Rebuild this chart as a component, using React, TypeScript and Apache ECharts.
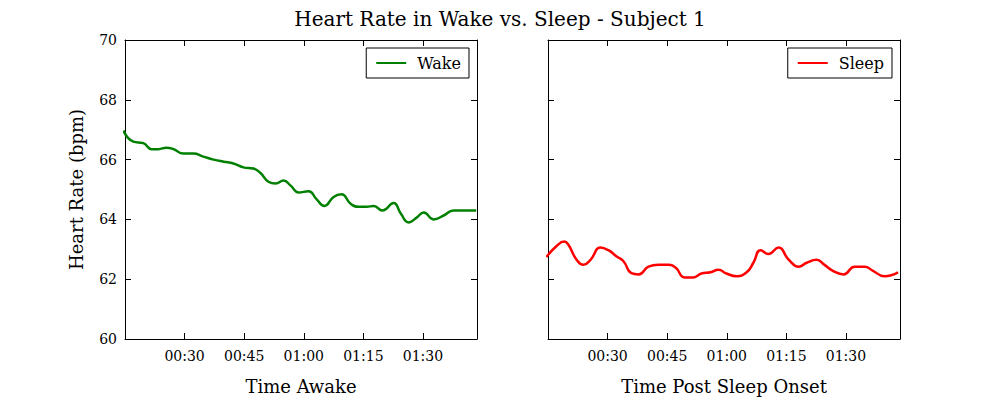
import * as echarts from "echarts";
import { useEffect, useRef } from "react";

const wakeMinutes = [14.6, 17.1, 19.6, 21.7, 23.4, 25.4, 27.2, 29.7, 32.2, 34.7, 37.3, 39.8, 42.3, 44.8, 47.3, 49.1, 51.1, 52.9, 54.9, 56.7, 58.7, 61.2, 63.2, 65.2, 67.5, 69.5, 71.8, 73.8, 75.8, 77.6, 79.8, 82.6, 84.4, 86.4, 88.4, 90.2, 92.7, 95.2, 97.7, 103.4];
const wakeHr = [66.97, 66.6, 66.55, 66.35, 66.35, 66.4, 66.35, 66.2, 66.2, 66.1, 66.0, 65.93, 65.87, 65.74, 65.7, 65.55, 65.26, 65.2, 65.3, 65.13, 64.9, 64.94, 64.68, 64.45, 64.75, 64.84, 64.52, 64.42, 64.42, 64.45, 64.3, 64.55, 64.2, 63.9, 64.06, 64.23, 64.0, 64.13, 64.3, 64.3];
const sleepMinutes = [14.6, 17.1, 19.1, 20.1, 22.2, 23.9, 25.7, 28.2, 30.2, 32.2, 34.0, 36.0, 37.8, 40.3, 42.8, 45.3, 47.1, 49.4, 51.6, 53.6, 55.9, 57.9, 59.9, 62.5, 65.0, 66.7, 68.5, 70.5, 73.0, 75.6, 78.1, 80.1, 82.6, 84.6, 86.6, 89.4, 92.2, 94.7, 96.7, 99.7, 103.1];
const sleepHr = [62.74, 63.1, 63.26, 63.16, 62.65, 62.48, 62.65, 63.06, 62.97, 62.77, 62.6, 62.2, 62.16, 62.42, 62.48, 62.48, 62.39, 62.06, 62.06, 62.19, 62.23, 62.32, 62.19, 62.1, 62.23, 62.55, 62.97, 62.84, 63.06, 62.65, 62.42, 62.55, 62.65, 62.48, 62.29, 62.16, 62.42, 62.42, 62.29, 62.1, 62.23];

const font = "DejaVu Serif";
const fmt = (v: number) => {
  const h = Math.floor(v / 60);
  const m = Math.round(v % 60);
  return `${String(h).padStart(2, "0")}:${String(m).padStart(2, "0")}`;
};

function App() {
  const chartRef = useRef(null);

  useEffect(() => {
    const chart = echarts.init(chartRef.current, null, { renderer: "svg" });

    const xAxis = (gridIndex: number, name: string, top: boolean) => ({
      type: "value",
      gridIndex,
      position: top ? "top" : "bottom",
      min: 15,
      max: 103.6,
      interval: 15,
      name: top ? "" : name,
      nameLocation: "middle",
      nameGap: 38,
      nameTextStyle: { fontFamily: font, fontSize: 18, color: "#000" },
      axisLine: { show: true, lineStyle: { color: "#000" } },
      axisTick: { show: true, inside: true, length: 6, lineStyle: { color: "#000" } },
      axisLabel: {
        show: !top,
        showMinLabel: false,
        showMaxLabel: false,
        formatter: fmt,
        fontFamily: font,
        fontSize: 14,
        color: "#000",
        margin: 10,
      },
      splitLine: { show: false },
    });

    const yAxis = (gridIndex: number, labels: boolean, right: boolean) => ({
      type: "value",
      gridIndex,
      position: right ? "right" : "left",
      min: 60,
      max: 70,
      interval: 2,
      name: labels && !right ? "Heart Rate (bpm)" : "",
      nameLocation: "middle",
      nameGap: 40,
      nameTextStyle: { fontFamily: font, fontSize: 18, color: "#000" },
      axisLine: { show: true, lineStyle: { color: "#000" } },
      axisTick: { show: true, inside: true, length: 6, lineStyle: { color: "#000" } },
      axisLabel: { show: labels && !right, fontFamily: font, fontSize: 14, color: "#000", margin: 8 },
      splitLine: { show: false },
    });

    const legend = (name: string, right: number) => ({
      data: [{ name }],
      top: 48,
      right,
      orient: "vertical",
      borderColor: "#000",
      borderWidth: 1,
      borderRadius: 0,
      padding: [7, 8, 7, 10],
      itemWidth: 30,
      itemHeight: 14,
      itemGap: 8,
      icon: "path://M0,6 L30,6 L30,8 L0,8 Z",
      textStyle: { fontFamily: font, fontSize: 16, color: "#000", padding: [0, 0, 0, 6] },
    });

    chart.setOption({
      animation: false,
      backgroundColor: "#fff",
      title: {
        text: "Heart Rate in Wake vs. Sleep - Subject 1",
        left: "center",
        top: 4,
        textStyle: { fontFamily: font, fontSize: 20, fontWeight: "normal", color: "#000" },
      },
      legend: [legend("Wake", 531), legend("Sleep", 108)],
      grid: [
        { left: 125, width: 352, top: 40, height: 310 },
        { left: 548, width: 352, top: 40, height: 310 },
      ],
      xAxis: [
        xAxis(0, "Time Awake", false),
        xAxis(0, "", true),
        xAxis(1, "Time Post Sleep Onset", false),
        xAxis(1, "", true),
      ],
      yAxis: [yAxis(0, true, false), yAxis(0, false, true), yAxis(1, false, false), yAxis(1, false, true)],
      series: [
        {
          name: "Wake",
          type: "line",
          xAxisIndex: 0,
          yAxisIndex: 0,
          smooth: 0.5,
          showSymbol: false,
          lineStyle: { color: "#008000", width: 2.5 },
          itemStyle: { color: "#008000" },
          data: wakeMinutes.map((m, i) => [m, wakeHr[i]]),
        },
        {
          name: "Sleep",
          type: "line",
          xAxisIndex: 2,
          yAxisIndex: 2,
          smooth: 0.5,
          showSymbol: false,
          lineStyle: { color: "#ff0000", width: 2.5 },
          itemStyle: { color: "#ff0000" },
          data: sleepMinutes.map((m, i) => [m, sleepHr[i]]),
        },
      ],
    });

    return () => {
      chart.dispose();
    };
  }, []);

  return (
    <div
      ref={chartRef}
      style={{ position: "absolute", left: 0, top: 0, width: "1000px", height: "400px" }}
    />
  );
}

export default App;
